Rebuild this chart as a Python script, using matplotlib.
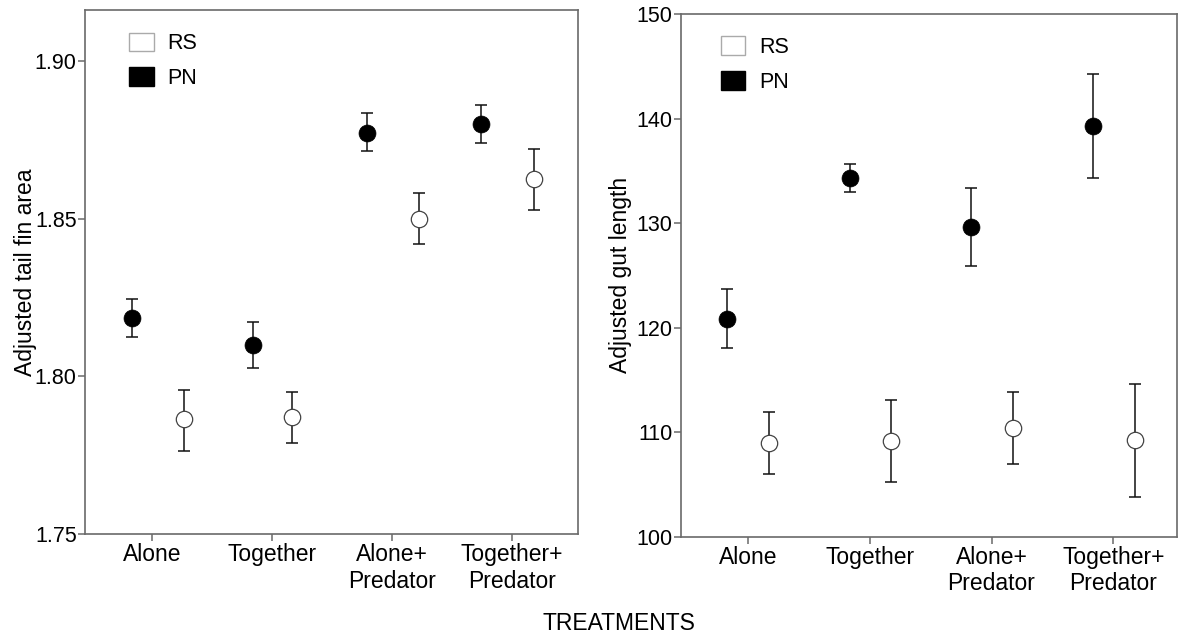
import matplotlib
matplotlib.use("Agg")
import matplotlib.pyplot as plt
from matplotlib.patches import Patch
import numpy as np

plt.rcParams['font.family'] = ['Liberation Sans', 'DejaVu Sans']

categories = ["Alone", "Together", "Alone+\nPredator", "Together+\nPredator"]
series = ["RS", "PN"]

# Left panel: adjusted tail fin area
tail_pn_mean = [1.8186, 1.8101, 1.8774, 1.8801]
tail_pn_low = [1.8126, 1.8028, 1.8714, 1.8740]
tail_pn_high = [1.8247, 1.8173, 1.8835, 1.8861]
tail_rs_mean = [1.7864, 1.7870, 1.8499, 1.8626]
tail_rs_low = [1.7763, 1.7788, 1.8419, 1.8527]
tail_rs_high = [1.7957, 1.7950, 1.8583, 1.8721]
tail_pn_offset = [-0.167, -0.158, -0.208, -0.256]
tail_rs_offset = [0.269, 0.172, 0.230, 0.186]
tail_yticks = [1.75, 1.80, 1.85, 1.90]

# Right panel: adjusted gut length
gut_pn_mean = [120.83, 134.27, 129.66, 139.29]
gut_pn_low = [118.03, 133.00, 125.90, 134.33]
gut_pn_high = [123.67, 135.64, 133.38, 144.30]
gut_rs_mean = [108.98, 109.14, 110.41, 109.26]
gut_rs_low = [105.98, 105.22, 106.97, 103.82]
gut_rs_high = [111.94, 113.06, 113.88, 114.60]
gut_pn_offset = [-0.167, -0.164, -0.169, -0.171]
gut_rs_offset = [0.177, 0.178, 0.176, 0.177]
gut_yticks = [100, 110, 120, 130, 140, 150]

W, H = 1184, 637
fig = plt.figure(figsize=(W / 100, H / 100), dpi=100)
fig.patch.set_facecolor('white')

spine_col = '#6a6a6a'


def panel(rect, pn_m, pn_lo, pn_hi, rs_m, rs_lo, rs_hi, pn_off, rs_off,
          yticks, ylim, xlim, fmt, ylabel, ylabel_x, leg_anchor):
    l, b, w, h = rect
    ax = fig.add_axes([l / W, b / H, w / W, h / H])
    x = np.arange(len(categories))
    pn_m = np.array(pn_m); rs_m = np.array(rs_m)
    pn_err = [pn_m - np.array(pn_lo), np.array(pn_hi) - pn_m]
    rs_err = [rs_m - np.array(rs_lo), np.array(rs_hi) - rs_m]
    ax.errorbar(x + np.array(rs_off), rs_m, yerr=rs_err, fmt='none',
                ecolor='#111111', elinewidth=1.1, capsize=4.2, capthick=1.1, zorder=2)
    ax.errorbar(x + np.array(pn_off), pn_m, yerr=pn_err, fmt='none',
                ecolor='#111111', elinewidth=1.1, capsize=4.2, capthick=1.1, zorder=2)
    ax.plot(x + np.array(rs_off), rs_m, 'o', ms=11.8, mfc='white',
            mec='#444444', mew=0.9, linestyle='none', zorder=3)
    ax.plot(x + np.array(pn_off), pn_m, 'o', ms=12.2, mfc='black',
            mec='black', mew=0.5, linestyle='none', zorder=3)
    ax.set_xlim(*xlim)
    ax.set_ylim(*ylim)
    ax.set_xticks(x)
    ax.set_xticklabels(categories, fontsize=16.5, linespacing=1.2)
    ax.set_yticks(yticks)
    ax.set_yticklabels([fmt.format(v) for v in yticks], fontsize=15.5)
    ax.tick_params(axis='both', direction='out', length=5, width=1.1,
                   color=spine_col, labelcolor='black')
    ax.tick_params(axis='x', pad=1.5)
    ax.tick_params(axis='y', pad=1)
    for s in ax.spines.values():
        s.set_color(spine_col)
        s.set_linewidth(1.2)
    ax.set_ylabel(ylabel, fontsize=16.5)
    ax.yaxis.set_label_coords(ylabel_x, 0.5)
    handles = [Patch(facecolor='white', edgecolor='#aaaaaa', linewidth=1.0),
               Patch(facecolor='black', edgecolor='black', linewidth=1.0)]
    ax.legend(handles, series, loc='upper left', bbox_to_anchor=leg_anchor,
              frameon=False, fontsize=15.5, handlelength=1.15, handleheight=0.95,
              handletextpad=0.62, labelspacing=0.6, borderpad=0, borderaxespad=0)
    return ax


panel((85, 637 - 534, 493, 524),
      tail_pn_mean, tail_pn_low, tail_pn_high,
      tail_rs_mean, tail_rs_low, tail_rs_high,
      tail_pn_offset, tail_rs_offset,
      tail_yticks, (1.75, 1.9163), (-0.556, 3.553), "{:.2f}",
      "Adjusted tail fin area", -0.097, (0.089, 0.957))

panel((681, 637 - 536.7, 496, 522.7),
      gut_pn_mean, gut_pn_low, gut_pn_high,
      gut_rs_mean, gut_rs_low, gut_rs_high,
      gut_pn_offset, gut_rs_offset,
      gut_yticks, (100, 150), (-0.548, 3.522), "{:d}",
      "Adjusted gut length", -0.098, (0.080, 0.957))

fig.text(618.5 / W, 1 - 623 / H, "TREATMENTS", ha='center', va='center', fontsize=16.5)

fig.savefig("out.png", dpi=100, facecolor='white')
